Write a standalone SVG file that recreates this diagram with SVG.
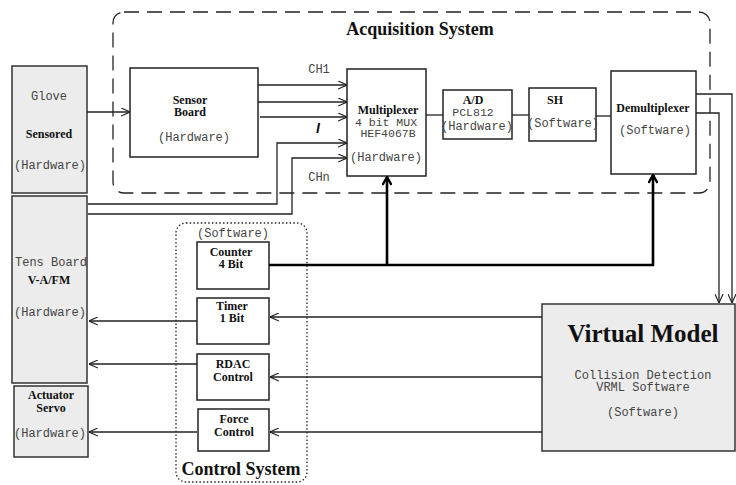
<svg xmlns="http://www.w3.org/2000/svg" width="736" height="485" viewBox="0 0 736 485">
<defs>
<style>
.bx{fill:#fff;stroke:#222;stroke-width:1.5}
.gr{fill:#ececec;stroke:#333;stroke-width:1.5}
.ln{fill:none;stroke:#222;stroke-width:1.3}
.tk{fill:none;stroke:#000;stroke-width:2.6}
.m{font-family:"Liberation Mono",monospace;font-size:12px;fill:#444;text-anchor:middle}
.s{font-size:11.5px}
.b{font-family:"Liberation Serif",serif;font-weight:bold;font-size:12px;fill:#111;text-anchor:middle}
.t{font-family:"Liberation Serif",serif;font-weight:bold;font-size:18px;fill:#111;text-anchor:middle}
</style>
<marker id="a" viewBox="0 0 10 10" refX="10" refY="5" markerWidth="9" markerHeight="9" markerUnits="userSpaceOnUse" orient="auto"><path d="M0,0.5 L10,5 L0,9.5" fill="none" stroke="#222" stroke-width="1.3"/></marker>
<marker id="k" viewBox="0 0 10 10" refX="9" refY="5" markerWidth="10" markerHeight="10" markerUnits="userSpaceOnUse" orient="auto"><path d="M1,0.5 L9,5 L1,9.5" fill="none" stroke="#000" stroke-width="2.4"/></marker>
</defs>
<rect width="736" height="485" fill="#fff"/>

<g id="acquisition-system">
<rect x="113" y="12" width="597" height="181" rx="11" fill="none" stroke="#222" stroke-width="1.3" stroke-dasharray="15,8"/>
<text class="t" x="420" y="35">Acquisition System</text>
</g>

<g id="control-system">
<rect x="176" y="223" width="131" height="259" rx="10" fill="none" stroke="#222" stroke-width="1.3" stroke-dasharray="1.5,2.2"/>
<text class="m" x="233" y="237">(Software)</text>
<text class="t" x="241" y="475">Control System</text>
</g>

<g id="glove">
<rect class="gr" x="12" y="66" width="75" height="127"/>
<text class="m" x="49" y="100">Glove</text>
<text class="b" x="49" y="138">Sensored</text>
<text class="m" x="50" y="169">(Hardware)</text>
</g>

<g id="tens-board">
<rect class="gr" x="12" y="196" width="75" height="187"/>
<text class="m" x="51" y="266">Tens Board</text>
<text class="b" x="49" y="284">V-A/FM</text>
<text class="m" x="50" y="316">(Hardware)</text>
</g>

<g id="actuator-servo">
<rect class="gr" x="14" y="386" width="74" height="71"/>
<text class="b" x="51" y="399">Actuator</text>
<text class="b" x="51" y="412">Servo</text>
<text class="m" x="50" y="437">(Hardware)</text>
</g>

<g id="sensor-board">
<rect class="bx" x="130" y="68" width="128" height="89"/>
<text class="b" x="190" y="104">Sensor</text>
<text class="b" x="190" y="116">Board</text>
<text class="m" x="194" y="141">(Hardware)</text>
</g>

<g id="multiplexer">
<rect class="bx" x="347" y="69" width="79" height="107"/>
<text class="b" x="388" y="114">Multiplexer</text>
<text class="m s" x="386" y="126">4 bit MUX</text>
<text class="m s" x="388" y="137">HEF4067B</text>
<text class="m" x="386" y="161">(Hardware)</text>
</g>

<g id="ad">
<rect class="bx" x="443" y="90" width="69" height="49"/>
<text class="b" x="473" y="104">A/D</text>
<text class="m s" x="473" y="116">PCL812</text>
<text class="m" x="477" y="130">(Hardware)</text>
</g>

<g id="sh">
<rect class="bx" x="529" y="88" width="67" height="53"/>
<text class="b" x="555" y="104">SH</text>
<text class="m" x="563" y="127">(Software)</text>
</g>

<g id="demultiplexer">
<rect class="bx" x="611" y="71" width="85" height="103"/>
<text class="b" x="653" y="112">Demultiplexer</text>
<text class="m" x="655" y="134">(Software)</text>
</g>

<g id="counter">
<rect class="bx" x="197" y="242" width="72" height="47"/>
<text class="b" x="231" y="256">Counter</text>
<text class="b" x="231" y="268">4 Bit</text>
</g>

<g id="timer">
<rect class="bx" x="197" y="298" width="72" height="46"/>
<text class="b" x="232" y="310">Timer</text>
<text class="b" x="232" y="322">1 Bit</text>
</g>

<g id="rdac">
<rect class="bx" x="197" y="354" width="72" height="46"/>
<text class="b" x="233" y="368">RDAC</text>
<text class="b" x="233" y="381">Control</text>
</g>

<g id="force">
<rect class="bx" x="198" y="409" width="71" height="42"/>
<text class="b" x="234" y="423">Force</text>
<text class="b" x="234" y="436">Control</text>
</g>

<g id="virtual-model">
<rect class="gr" x="542" y="304" width="193" height="147"/>
<text x="643" y="342" font-family="Liberation Serif,serif" font-weight="bold" font-size="25" fill="#111" text-anchor="middle">Virtual Model</text>
<text class="m" x="643" y="379">Collision Detection</text>
<text class="m" x="643" y="391">VRML Software</text>
<text class="m" x="643" y="416">(Software)</text>
</g>

<g id="connectors">
<path class="ln" d="M87,112 H130" marker-end="url(#a)"/>
<path class="ln" d="M258,85 H347" marker-end="url(#a)"/>
<path class="ln" d="M258,102 H347" marker-end="url(#a)"/>
<path class="ln" d="M260,117 H347" marker-end="url(#a)"/>
<path class="ln" d="M88,204 H277 V143 H347" marker-end="url(#a)"/>
<path class="ln" d="M88,214 H292 V158 H347" marker-end="url(#a)"/>
<path class="ln" d="M426,115 H443"/>
<path class="ln" d="M512,115 H529"/>
<path class="ln" d="M596,116 H611"/>
<path class="ln" d="M696,94 H732 V303" marker-end="url(#a)"/>
<path class="ln" d="M696,113 H719 V303" marker-end="url(#a)"/>
<path class="tk" d="M269,265 H653 V175" marker-end="url(#k)"/>
<path class="tk" d="M387,265 V177" marker-end="url(#k)"/>
<path class="ln" d="M197,321 H89" marker-end="url(#a)"/>
<path class="ln" d="M197,364 H89" marker-end="url(#a)"/>
<path class="ln" d="M197,432 H89" marker-end="url(#a)"/>
<path class="ln" d="M542,317 H270" marker-end="url(#a)"/>
<path class="ln" d="M542,377 H270" marker-end="url(#a)"/>
<path class="ln" d="M542,432 H270" marker-end="url(#a)"/>
<text x="319" y="73" font-family="Liberation Mono,monospace" font-size="12" fill="#444" text-anchor="middle">CH1</text>
<text x="319" y="181" font-family="Liberation Mono,monospace" font-size="12" fill="#444" text-anchor="middle">CHn</text>
<text x="318" y="133" font-family="Liberation Sans,sans-serif" font-weight="bold" font-style="italic" font-size="14" fill="#111" text-anchor="middle">I</text>
</g>
</svg>
